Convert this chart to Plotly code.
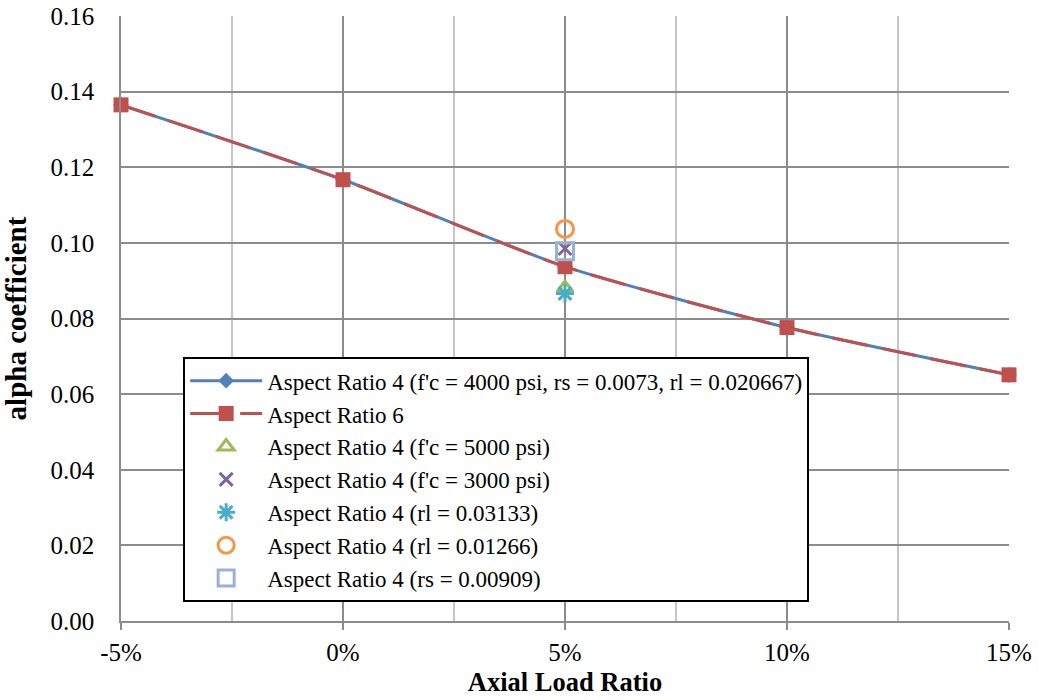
import plotly.graph_objects as go

# Axial load ratio (fraction) and alpha coefficient values
axial_ratio = [-0.05, 0.0, 0.05, 0.10, 0.15]
alpha_ar4 = [0.1365, 0.1167, 0.0937, 0.0776, 0.0651]
alpha_ar6 = [0.1365, 0.1167, 0.0937, 0.0776, 0.0651]

# Single-point variations at 5% axial load
var_x = [0.05]
alpha_fc5000 = [0.0880]
alpha_fc3000 = [0.0985]
alpha_rl03133 = [0.0866]
alpha_rl01266 = [0.1037]
alpha_rs00909 = [0.0978]

names = [
    "Aspect Ratio 4 (f'c = 4000 psi, rs = 0.0073, rl = 0.020667)",
    "Aspect Ratio 6",
    "Aspect Ratio 4 (f'c = 5000 psi)",
    "Aspect Ratio 4 (f'c = 3000 psi)",
    "Aspect Ratio 4 (rl = 0.03133)",
    "Aspect Ratio 4 (rl = 0.01266)",
    "Aspect Ratio 4 (rs = 0.00909)",
]

FONT = "Liberation Serif, Times New Roman, serif"
MAJOR_GRID = "#8C8C8C"
MINOR_GRID = "#C6C6C6"

fig = go.Figure()
fig.add_trace(go.Scatter(
    x=axial_ratio, y=alpha_ar4, name=names[0], mode="lines+markers",
    line=dict(color="#4F81BD", width=3, shape="spline", smoothing=0.6),
    marker=dict(symbol="diamond", size=12, color="#4F81BD"),
    cliponaxis=False,
))
fig.add_trace(go.Scatter(
    x=axial_ratio, y=alpha_ar6, name=names[1], mode="lines+markers",
    line=dict(color="#C0504D", width=3, shape="spline", smoothing=0.6, dash="36px,14px"),
    marker=dict(symbol="square", size=15, color="#C0504D"),
    cliponaxis=False,
))
point_styles = [
    (alpha_fc5000, "triangle-up-open", "#9BBB59", 14),
    (alpha_fc3000, "x-thin-open", "#8064A2", 13),
    (alpha_rl03133, "asterisk-open", "#4BACC6", 15),
    (alpha_rl01266, "circle-open", "#F79646", 17),
    (alpha_rs00909, "square-open", "#95B3D7", 17),
]
for (vals, sym, col, sz), nm in zip(point_styles, names[2:]):
    fig.add_trace(go.Scatter(
        x=var_x, y=vals, name=nm, mode="markers",
        marker=dict(symbol=sym, size=sz, color=col, line=dict(color=col, width=3)),
    ))

fig.update_layout(
    width=1038, height=700,
    margin=dict(l=121, r=29, t=16, b=79),
    paper_bgcolor="white", plot_bgcolor="white",
    font=dict(family=FONT, size=25, color="black"),
    showlegend=True,
    legend=dict(
        x=0.07, y=0.436, xanchor="left", yanchor="top",
        bgcolor="white", bordercolor="black", borderwidth=2,
        font=dict(family=FONT, size=23, color="black"),
        tracegroupgap=0, itemwidth=72,
    ),
    xaxis=dict(
        range=[-0.05, 0.15], tickvals=[-0.05, 0, 0.05, 0.10, 0.15],
        ticktext=["-5%", "0%", "5%", "10%", "15%"],
        showgrid=True, gridcolor=MAJOR_GRID, gridwidth=1.5,
        minor=dict(dtick=0.025, tick0=0, showgrid=True, gridcolor=MINOR_GRID, gridwidth=1.5),
        showline=True, linecolor=MAJOR_GRID, linewidth=1.5, zeroline=False,
        ticks="outside", ticklen=7, tickcolor=MAJOR_GRID, tickwidth=1.5,
        ticklabelstandoff=1, automargin=False,
        title=dict(text="<b>Axial Load Ratio</b>", font=dict(family=FONT, size=26.5), standoff=8),
    ),
    yaxis=dict(
        range=[0, 0.16], dtick=0.02, tickformat=".2f",
        showgrid=True, gridcolor=MAJOR_GRID, gridwidth=1.5,
        showline=True, linecolor=MAJOR_GRID, linewidth=1.5, zeroline=False,
        ticks="", ticklen=0, ticklabelstandoff=20, automargin=False,
        title=dict(text="<b>alpha coefficient</b>", font=dict(family=FONT, size=29), standoff=16),
    ),
)

fig.write_html("out.html")
